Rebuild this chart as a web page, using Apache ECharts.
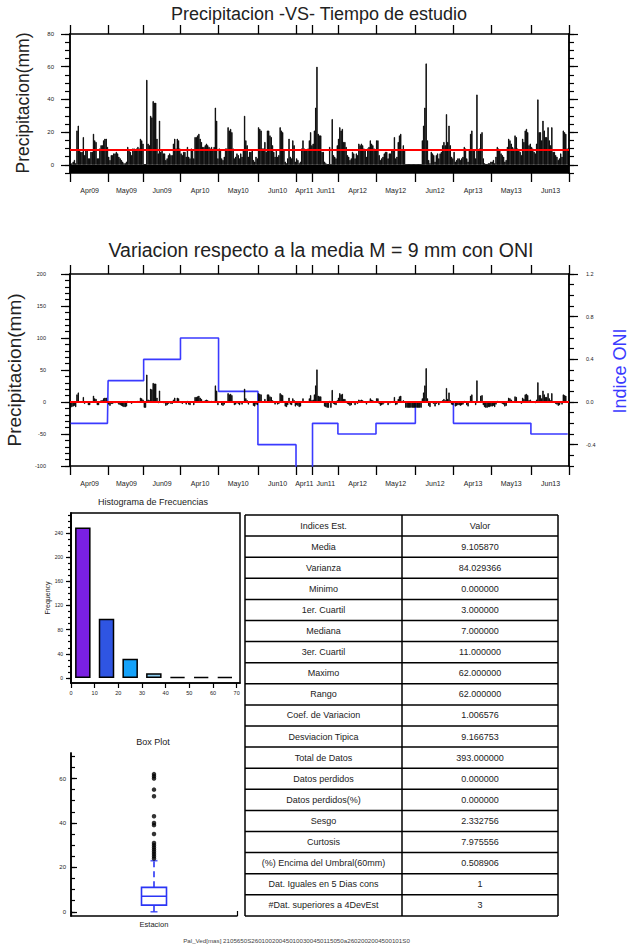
<!DOCTYPE html>
<html><head><meta charset="utf-8">
<script src="https://cdn.jsdelivr.net/npm/echarts@6/dist/echarts.min.js"></script>
<style>html,body{margin:0;padding:0;background:#fff}#c{width:631px;height:949px}</style>
</head><body><div id="c"></div>
<script>
// ---------------- DATA ----------------
const months = ['Apr09','May09','Jun09','Apr10','May10','Jun10','Apr11','Jun11','Apr12','May12','Jun12','Apr13','May13','Jun13'];
const apr09 = [0, 1, 2, 3, 1, 21, 24, 9, 8, 8, 17, 6, 9, 9, 4, 4, 8, 8, 19, 15, 14, 4, 4, 10, 12, 12, 15, 16, 16, 11];
const may09 = [5, 3, 6, 6, 7, 7, 8, 7, 5, 4, 3, 2, 1, 1, 2, 11, 9, 8, 6, 10, 10, 9, 10, 11, 10, 16, 15, 13];
const jun09 = [0, 0, 52, 13, 12, 30, 29, 39, 38, 38, 16, 7, 27, 8, 9, 7, 7, 3, 4, 6, 7, 6, 6, 13, 16, 10, 16, 15, 10];
const apr10 = [7, 6, 8, 8, 5, 11, 5, 4, 10, 9, 4, 17, 17, 18, 19, 16, 14, 11, 11, 12, 13, 12, 11, 10, 11, 9, 11, 35, 27, 4];
const may10 = [10, 9, 4, 3, 5, 10, 10, 23, 21, 22, 20, 10, 4, 5, 7, 6, 4, 7, 5, 9, 30, 15, 12, 5, 8, 8, 9, 3, 2, 5, 4];
const jun10 = [23, 22, 21, 10, 10, 14, 8, 21, 21, 18, 17, 12, 8, 5, 9, 5, 6, 23, 21, 20, 9, 2, 1, 4, 16, 5, 4, 15, 12, 2];
const apr11 = [4, 3, 1, 2, 10, 15, 10, 9, 9, 10, 15, 20, 12];
const jun11 = [13, 21, 35, 60, 19, 18, 18, 8, 8, 2, 1, 0, 0, 11, 0, 28, 6, 5, 4, 12];
const apr12 = [16, 23, 21, 22, 14, 14, 11, 6, 5, 3, 4, 8, 7, 4, 7, 6, 13, 12, 13, 12, 10, 9, 5, 10, 11, 15, 13, 12, 10, 9];
const may12 = [15, 15, 6, 3, 4, 5, 7, 8, 8, 4, 7, 7, 9, 9, 17, 4, 5, 14, 18, 19, 9, 12, 9, 0, 0, 0, 0, 0, 0, 0, 0];
const jun12 = [0, 0, 0, 0, 0, 15, 24, 35, 62, 15, 3, 1, 8, 7, 6, 2, 6, 7, 4, 7, 8, 12, 14, 12, 31, 14, 24, 12, 5, 4];
const apr13 = [8, 2, 3, 4, 4, 3, 4, 5, 11, 10, 4, 2, 9, 19, 21, 9, 9, 4, 43, 9, 10, 19, 20, 4, 1, 0, 0, 1, 1, 2];
const may13 = [2, 3, 1, 5, 11, 10, 9, 7, 6, 5, 2, 3, 11, 16, 15, 13, 11, 10, 18, 17, 10, 9, 8, 6, 16, 14, 21, 22, 20, 12, 13];
const jun13 = [11, 10, 8, 7, 13, 40, 20, 20, 15, 27, 21, 17, 17, 23, 15, 12, 23, 8, 8, 6, 5, 3, 4, 7, 5, 21, 20, 19, 10, 10];
const oniByMonth = [-0.2, 0.2, 0.4, 0.6, 0.1, -0.4, -0.8, -0.2, -0.3, -0.2, 0.0, -0.2, -0.2, -0.3];
const mediaM = 9.105870;

const topYLabels = [0, 20, 40, 60, 80];
const midYLabels = [-100, -50, 0, 50, 100, 150, 200];
const oniLabels = [-0.4, 0.0, 0.4, 0.8, 1.2];

const histCenters = [5, 15, 25, 35, 45, 55, 65];
const histCounts = [249, 98, 32, 8, 2, 2, 2];
const histXLabels = [0, 10, 20, 30, 40, 50, 60, 70];
const histYLabels = [0, 40, 80, 120, 160, 200, 240];

const boxCategory = ['Estacion'];
const boxStats = [0, 3, 7, 11, 23];   // min, Q1, mediana, Q3, bigote sup.
const boxOutliers = [24, 25, 26, 27, 28, 29, 30, 31, 35, 39, 40, 43, 52, 55, 60, 61, 62];
const boxYLabels = [0, 20, 40, 60];

const tableHeader = ['Indices Est.', 'Valor'];
const tableLabels = ['Media', 'Varianza', 'Minimo', '1er. Cuartil', 'Mediana', '3er. Cuartil', 'Maximo', 'Rango',
  'Coef. de Variacion', 'Desviacion Tipica', 'Total de Datos', 'Datos perdidos', 'Datos perdidos(%)', 'Sesgo',
  'Curtosis', '(%) Encima del Umbral(60mm)', 'Dat. Iguales en 5 Dias cons', '#Dat. superiores a 4DevEst'];
const tableValues = ['9.105870', '84.029366', '0.000000', '3.000000', '7.000000', '11.000000', '62.000000', '62.000000',
  '1.006576', '9.166753', '393.000000', '0.000000', '0.000000', '2.332756', '7.975556', '0.508906', '1', '3'];

// ---------------- BUILD ----------------
const monthData = [apr09, may09, jun09, apr10, may10, jun10, apr11, jun11, apr12, may12, jun12, apr13, may13, jun13];
const days = [], precip = [], oniDaily = [];
const startSet = new Set(), midSet = new Set();
monthData.forEach((arr, m) => {
  startSet.add(days.length);
  midSet.add(days.length + Math.floor(arr.length / 2));
  arr.forEach((v, d) => { days.push(months[m] + '-' + (d + 1)); precip.push(v); oniDaily.push(oniByMonth[m]); });
});
const anomaly = precip.map(v => +(v - mediaM).toFixed(3));

function steps(a, b, s) { const r = []; for (let v = a; v <= b + 1e-9; v += s) r.push(Math.round(v * 1000) / 1000); return r; }

const FONT = "'Liberation Sans', Arial, Helvetica, sans-serif";
const BLK = '#000';
const BLUE = '#3a3aff';

function vAxis(o) {
  return {
    type: 'value', gridIndex: o.grid, position: o.pos, min: o.min, max: o.max,
    axisLine: { show: true, onZero: false, lineStyle: { color: BLK, width: 1.5 } },
    axisTick: { show: true, inside: !!o.inside, length: o.len, customValues: o.ticks, lineStyle: { color: BLK, width: 1.2 } },
    axisLabel: { show: !!o.labels, customValues: o.labels || [], margin: o.margin || 8, fontSize: o.fs || 6,
      color: '#222', fontFamily: FONT, formatter: o.fmt },
    splitLine: { show: false }
  };
}
function cAxis(grid, pos, labels) {
  return {
    type: 'category', gridIndex: grid, position: pos, data: days, boundaryGap: true,
    axisLine: { show: true, onZero: false, lineStyle: { color: BLK, width: 1.5 } },
    axisTick: { show: true, inside: false, length: 9, alignWithLabel: false,
      interval: (i) => startSet.has(i), lineStyle: { color: BLK, width: 1.3 } },
    axisLabel: { show: labels, interval: (i) => midSet.has(i), formatter: v => v.split('-')[0],
      fontSize: 7, color: '#222', margin: 14, fontFamily: FONT },
    splitLine: { show: false }
  };
}

const xAxis = [
  cAxis(0, 'bottom', true), cAxis(0, 'top', false),
  cAxis(1, 'bottom', true), cAxis(1, 'top', false),
  { type: 'value', gridIndex: 2, position: 'bottom', min: 0, max: 71.4,
    axisLine: { show: true, onZero: false, lineStyle: { color: BLK, width: 1.5 } },
    axisTick: { show: true, length: 5, customValues: histXLabels, lineStyle: { color: BLK, width: 1.2 } },
    axisLabel: { customValues: histXLabels, fontSize: 5.5, color: '#222', margin: 7, fontFamily: FONT },
    splitLine: { show: false } },
  { type: 'category', gridIndex: 3, position: 'bottom', data: boxCategory, boundaryGap: true,
    axisLine: { show: true, onZero: false, lineStyle: { color: BLK, width: 1.5 } },
    axisTick: { show: true, inside: true, length: 5, lineStyle: { color: BLK, width: 1.2 } },
    axisLabel: { fontSize: 7.5, color: '#222', margin: 4, fontFamily: FONT },
    splitLine: { show: false } }
];

const yAxis = [
  vAxis({ grid: 0, pos: 'left', min: -5, max: 80, ticks: steps(-5, 80, 5), len: 5 }),
  vAxis({ grid: 0, pos: 'left', min: -5, max: 80, ticks: topYLabels, len: 9, labels: topYLabels, margin: 16, fs: 6 }),
  vAxis({ grid: 0, pos: 'right', min: -5, max: 80, ticks: steps(-5, 80, 5), len: 5 }),
  vAxis({ grid: 0, pos: 'right', min: -5, max: 80, ticks: topYLabels, len: 9 }),
  vAxis({ grid: 1, pos: 'left', min: -100, max: 200, ticks: steps(-100, 200, 10), len: 5 }),
  vAxis({ grid: 1, pos: 'left', min: -100, max: 200, ticks: midYLabels, len: 9, labels: midYLabels, margin: 24, fs: 5.5 }),
  vAxis({ grid: 1, pos: 'right', min: -0.6, max: 1.2, ticks: steps(-0.6, 1.2, 0.1), len: 5 }),
  vAxis({ grid: 1, pos: 'right', min: -0.6, max: 1.2, ticks: oniLabels, len: 9, labels: oniLabels, margin: 17, fs: 5.5,
    fmt: v => Number(v).toFixed(1) }),
  vAxis({ grid: 2, pos: 'left', min: -8.3, max: 273, ticks: steps(0, 270, 10), len: 3 }),
  vAxis({ grid: 2, pos: 'left', min: -8.3, max: 273, ticks: histYLabels, len: 5, labels: histYLabels, margin: 8, fs: 5 }),
  vAxis({ grid: 3, pos: 'left', min: -1.9, max: 71.5, ticks: steps(0, 70, 5), len: 4, inside: true }),
  vAxis({ grid: 3, pos: 'left', min: -1.9, max: 71.5, ticks: boxYLabels, len: 6, inside: true, labels: boxYLabels, margin: 5, fs: 6 })
];

const histColors = ['#7a20e2', '#2f55e2', '#14a2fa', '#8dcdf0', '#bfe3f7', '#bfe3f7', '#bfe3f7'];

const series = [
  { type: 'bar', xAxisIndex: 0, yAxisIndex: 1, data: precip, barCategoryGap: '0%', z: 2,
    itemStyle: { color: '#000', borderColor: '#000', borderWidth: 0.8 }, silent: true, animation: false,
    markArea: { silent: true, itemStyle: { color: '#000' }, data: [[{ yAxis: -5 }, { yAxis: 0 }]] },
    markLine: { silent: true, symbol: 'none', label: { show: false }, lineStyle: { color: '#ff0000', width: 2, type: 'solid' },
      data: [{ yAxis: mediaM }] } },
  { type: 'line', xAxisIndex: 2, yAxisIndex: 7, data: oniDaily, step: 'middle', symbol: 'none', z: 1,
    lineStyle: { color: BLUE, width: 1.6 }, clip: true, animation: false, silent: true },
  { type: 'bar', xAxisIndex: 2, yAxisIndex: 5, data: anomaly, barCategoryGap: '0%', z: 2,
    itemStyle: { color: '#000', borderColor: '#000', borderWidth: 0.8 }, silent: true, animation: false,
    markLine: { silent: true, symbol: 'none', label: { show: false }, lineStyle: { color: '#ff0000', width: 2, type: 'solid' },
      data: [{ yAxis: 0 }] } },
  { type: 'bar', xAxisIndex: 4, yAxisIndex: 9, barWidth: 15.5, animation: false, silent: true,
    data: histCenters.map((c, i) => ({ value: [c, histCounts[i]], itemStyle: { color: histColors[i] } })),
    itemStyle: { borderColor: '#000', borderWidth: 1.5 } },
  { type: 'boxplot', xAxisIndex: 5, yAxisIndex: 11, boxWidth: [25, 25], animation: false, silent: true,
    data: [[boxStats[1], boxStats[1], boxStats[2], boxStats[3], boxStats[3]]],
    itemStyle: { color: 'rgba(255,255,255,0)', borderColor: '#2b35f5', borderWidth: 1.6 } },
  { type: 'line', xAxisIndex: 5, yAxisIndex: 11, data: [[0, boxStats[0]], [0, boxStats[1]]], symbol: 'none',
    lineStyle: { color: '#2b35f5', width: 1.6 }, animation: false, silent: true },
  { type: 'line', xAxisIndex: 5, yAxisIndex: 11, data: [[0, boxStats[3]], [0, boxStats[4]]], symbol: 'none',
    lineStyle: { color: '#2b35f5', width: 1.6, type: [6, 4] }, animation: false, silent: true },
  { type: 'scatter', xAxisIndex: 5, yAxisIndex: 11, data: [[0, boxStats[0]], [0, boxStats[4]]], symbol: 'rect',
    symbolSize: [7, 1.6], itemStyle: { color: '#2b35f5' }, animation: false, silent: true },
  { type: 'scatter', xAxisIndex: 5, yAxisIndex: 11, data: boxOutliers.map(v => [0, v]), symbol: 'circle',
    symbolSize: 4.5, itemStyle: { color: '#000' }, animation: false, silent: true, z: 5 }
];

// ---------------- GRAPHIC (texts, table) ----------------
function txt(s, x, y, size, opts) {
  opts = opts || {};
  return { type: 'text', x: x, y: y, rotation: opts.rot || 0, silent: true,
    style: { text: s, fontSize: size, fontFamily: FONT, fill: opts.fill || '#222', align: 'center', verticalAlign: 'middle' } };
}
const graphic = [
  txt('Precipitacion -VS- Tiempo de estudio', 319, 14, 18),
  txt('Variacion respecto a la media M = 9 mm con ONI', 321, 249.5, 19.5),
  txt('Precipitacion(mm)', 22.5, 103, 17.5, { rot: Math.PI / 2 }),
  txt('Precipitacion(mm)', 14.5, 370, 19, { rot: Math.PI / 2 }),
  txt('Indice ONI', 619.5, 371, 18, { rot: Math.PI / 2, fill: BLUE }),
  txt('Histograma de Frecuencias', 153, 501.7, 9),
  txt('Frequency', 47, 598, 7, { rot: Math.PI / 2 }),
  txt('Box Plot', 153, 741.7, 9),
  txt('Pal_Ved[mas] 2105650S260100200450100300450115050a2602002004500101S0', 296.5, 940.5, 6.2, { fill: '#444' })
];
const TX0 = 245, TX1 = 402, TX2 = 558, TY0 = 515, RH = 21.1;
const nRows = tableLabels.length + 1;
for (let i = 0; i <= nRows; i++) {
  graphic.push({ type: 'line', silent: true, shape: { x1: TX0, y1: TY0 + i * RH, x2: TX2, y2: TY0 + i * RH },
    style: { stroke: '#000', lineWidth: 1.5 } });
}
[TX0, TX1, TX2].forEach(x => graphic.push({ type: 'line', silent: true,
  shape: { x1: x, y1: TY0, x2: x, y2: TY0 + nRows * RH }, style: { stroke: '#000', lineWidth: 1.5 } }));
const rows = [tableHeader].concat(tableLabels.map((l, i) => [l, tableValues[i]]));
rows.forEach((r, i) => {
  const cy = TY0 + (i + 0.5) * RH;
  graphic.push(txt(r[0], (TX0 + TX1) / 2, cy, 9));
  graphic.push(txt(r[1], (TX1 + TX2) / 2, cy, 9));
});

const option = {
  animation: false,
  backgroundColor: '#fff',
  textStyle: { fontFamily: FONT },
  grid: [
    { left: 70, top: 34, width: 499, height: 139, containLabel: false },
    { left: 70, top: 274, width: 499, height: 192, containLabel: false },
    { left: 71, top: 513, width: 169, height: 170, containLabel: false, show: true, borderColor: '#000', borderWidth: 1.5, backgroundColor: 'transparent' },
    { left: 71, top: 753, width: 166, height: 163, containLabel: false }
  ],
  xAxis: xAxis,
  yAxis: yAxis,
  series: series,
  graphic: graphic
};
const chart = echarts.init(document.getElementById('c'), null, { renderer: 'svg', width: 631, height: 949 });
chart.setOption(option);
</script>
</body></html>
